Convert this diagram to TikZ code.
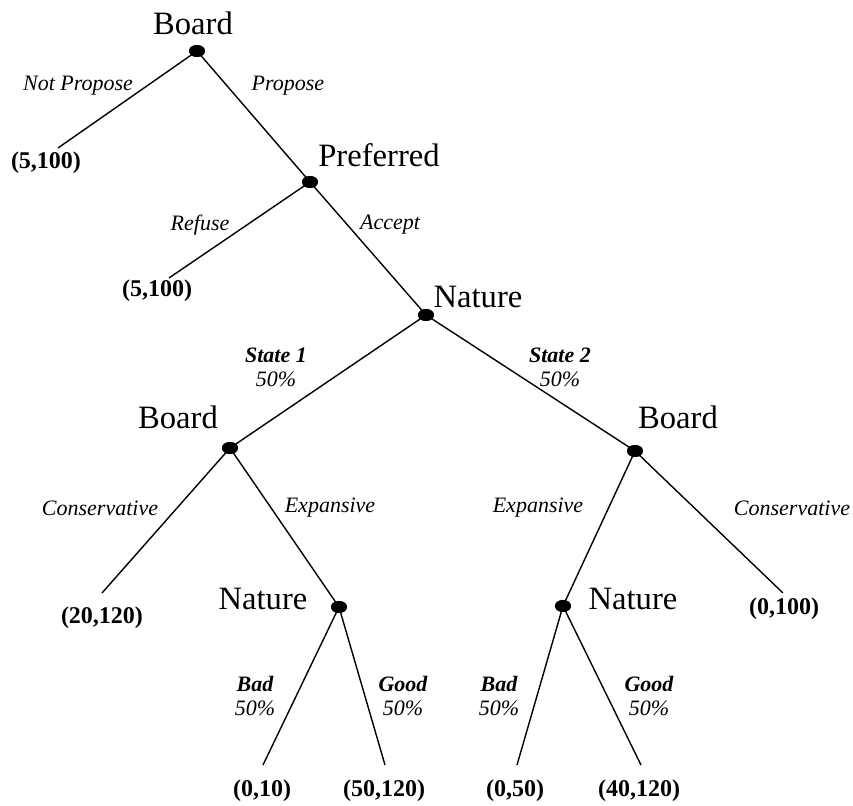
\documentclass[tikz,border=0pt]{standalone}
\usepackage{fontspec}
\setmainfont{Liberation Serif}
\usetikzlibrary{shapes.geometric}
\begin{document}
\begin{tikzpicture}[x=0.5pt,y=-0.5pt,
  dec/.style={ellipse,fill=black,draw=none,minimum width=8pt,minimum height=6pt,inner sep=0pt},
  edge/.style={line width=0.7pt},
  who/.style={font=\fontsize{16.3}{18}\selectfont,inner sep=0pt},
  pay/.style={font=\fontsize{12}{14}\selectfont\bfseries,inner sep=0pt},
  act/.style={font=\fontsize{11}{13}\selectfont\itshape,inner sep=0pt},
  prob/.style={font=\fontsize{11}{13}\selectfont\itshape,inner sep=0pt,align=center}]
\useasboundingbox (0,0) rectangle (853,806);
% decision nodes
\node[dec] (b0) at (197,51) {};
\node[dec] (pf) at (310,182) {};
\node[dec] (n0) at (426,315) {};
\node[dec] (bl) at (230,448) {};
\node[dec] (br) at (635,451) {};
\node[dec] (nl) at (339,607) {};
\node[dec] (nr) at (563,606) {};
% leaf ends
\coordinate (e1) at (58,148);
\coordinate (e2) at (169,278);
\coordinate (e3) at (102,593);
\coordinate (e4) at (783,593);
\coordinate (e5) at (263,765);
\coordinate (e6) at (385,765);
\coordinate (e7) at (517,765);
\coordinate (e8) at (641,765);
% edges
\draw[edge] (b0.center) -- (e1);
\draw[edge] (b0.center) -- (pf.center);
\draw[edge] (pf.center) -- (e2);
\draw[edge] (pf.center) -- (n0.center);
\draw[edge] (n0.center) -- (bl.center);
\draw[edge] (n0.center) -- (br.center);
\draw[edge] (bl.center) -- (e3);
\draw[edge] (bl.center) -- (nl.center);
\draw[edge] (br.center) -- (nr.center);
\draw[edge] (br.center) -- (e4);
\draw[edge] (nl.center) -- (e5);
\draw[edge] (nl.center) -- (e6);
\draw[edge] (nr.center) -- (e7);
\draw[edge] (nr.center) -- (e8);
% redraw dots on top
\foreach \n in {b0,pf,n0,bl,br,nl,nr} \fill (\n.center) ellipse [x radius=4pt,y radius=3pt];
% player labels
\node[who] (lb0) at (193,23) {Board};
\node[who] (lpf) at (379,155) {Preferred};
\node[who] (ln0) at (478,297) {Nature};
\node[who] (lbl) at (178,417) {Board};
\node[who] (lbr) at (678,417) {Board};
\node[who] (lnl) at (263,599) {Nature};
\node[who] (lnr) at (633,599) {Nature};
% payoffs
\node[pay] (p1) at (46,163) {(5,100)};
\node[pay] (p2) at (157,291) {(5,100)};
\node[pay] (p3) at (102,618) {(20,120)};
\node[pay] (p4) at (784,609) {(0,100)};
\node[pay] (p5) at (262,791) {(0,10)};
\node[pay] (p6) at (384,791) {(50,120)};
\node[pay] (p7) at (515,791) {(0,50)};
\node[pay] (p8) at (639,791) {(40,120)};
% action labels
\node[act] (a1) at (78,86) {Not Propose};
\node[act] (a2) at (288,86) {Propose};
\node[act] (a3) at (200,225) {Refuse};
\node[act] (a4) at (390,225) {Accept};
\node[act] (a5) at (100,508) {Conservative};
\node[act] (a6) at (330,508) {Expansive};
\node[act] (a7) at (538,508) {Expansive};
\node[act] (a8) at (792,508) {Conservative};
% probability labels
\node[prob] (s1) at (276,367) {\textbf{State 1}\\[-1pt]50\%};
\node[prob] (s2) at (560,367) {\textbf{State 2}\\[-1pt]50\%};
\node[prob] (q1) at (255,696) {\textbf{Bad}\\[-1pt]50\%};
\node[prob] (q2) at (403,696) {\textbf{Good}\\[-1pt]50\%};
\node[prob] (q3) at (499,696) {\textbf{Bad}\\[-1pt]50\%};
\node[prob] (q4) at (649,696) {\textbf{Good}\\[-1pt]50\%};
\end{tikzpicture}
\end{document}
